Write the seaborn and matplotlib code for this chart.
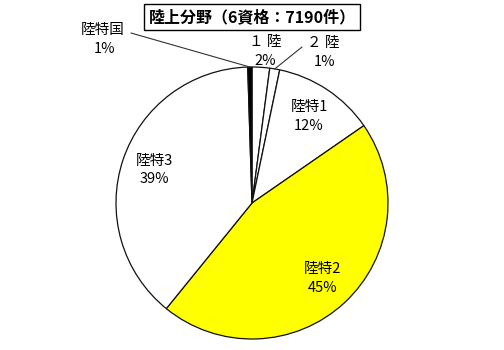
import matplotlib
matplotlib.use("Agg")
import matplotlib.pyplot as plt
import seaborn as sns
import numpy as np

sns.set_theme(style="white")
plt.rcParams['font.family'] = ['Noto Sans CJK JP', 'DejaVu Sans']

# ---- data ----
categories = ["１ 陸", "２ 陸", "陸特1", "陸特2", "陸特3", "陸特国"]
counts = [150, 85, 870, 3270, 2779, 36]
colors = ["white", "white", "white", "#FFFF00", "white", "black"]
title = "陸上分野（6資格：7190件）"

total = sum(counts)
pcts = [int(np.floor(v / total * 100 + 0.5)) for v in counts]

fig = plt.figure(figsize=(5.04, 3.5), dpi=100)
ax = fig.add_axes([0, 0, 1, 1])
R = 136.0   # pixels per unit radius
CX, CY = 252.0, 203.0  # pie centre in pixels (from top-left)

def px2d(px, py):
    return (px - CX) / R, (CY - py) / R

wedges, _ = ax.pie(counts, colors=colors, startangle=90, counterclock=False,
                   radius=1, center=(0, 0),
                   wedgeprops=dict(edgecolor="#111111", linewidth=0.9))
ax.set_xlim(-CX / R, (504 - CX) / R)
ax.set_ylim(-(350 - CY) / R, CY / R)
ax.set_aspect("auto")
ax.axis("off")

fs = 10.5
line_gap = 19 / R

def mid_angle(w):
    return np.deg2rad((w.theta1 + w.theta2) / 2)

# inner labels
for i in (2, 3, 4):
    a = mid_angle(wedges[i])
    r = 0.76
    x, y = r * np.cos(a), r * np.sin(a)
    ax.text(x, y + line_gap / 2, categories[i], ha="center", va="center", fontsize=fs, color="black")
    ax.text(x, y - line_gap / 2, f"{pcts[i]}%", ha="center", va="center", fontsize=fs, color="black")

# outer labels
outer = {
    0: (px2d(265, 42), None),
    1: (px2d(323, 43), px2d(302, 47)),
    5: (px2d(103, 30), px2d(131, 33)),
}
for i, ((x, y), lead) in outer.items():
    ax.text(x, y, categories[i], ha="center", va="center", fontsize=fs, color="black")
    ax.text(x + (2 / R if i != 0 else 0), y - line_gap, f"{pcts[i]}%", ha="center", va="center",
            fontsize=fs, color="black")
    if lead is not None:
        a = mid_angle(wedges[i])
        ax.plot([lead[0], np.cos(a)], [lead[1], np.sin(a)], color="#333333", lw=0.8)

# title
tx, ty = px2d(252, 17)
ax.text(tx, ty, title, ha="center", va="center", fontsize=11.5,
        fontweight="bold", color="black",
        bbox=dict(boxstyle="square,pad=0.3", facecolor="white", edgecolor="black", linewidth=1))

fig.savefig("out.png", dpi=100)
